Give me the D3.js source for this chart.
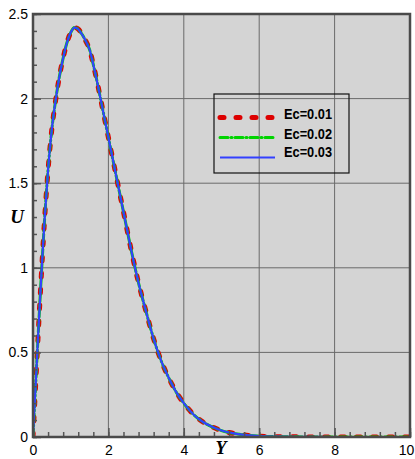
<!DOCTYPE html>
<html>
<head>
<meta charset="utf-8">
<script src="https://cdn.jsdelivr.net/npm/d3@7"></script>
<style>
  html, body { margin: 0; padding: 0; background: #ffffff; }
  svg { display: block; }
</style>
</head>
<body>
<svg id="chart" width="415" height="459"></svg>
<script>
// Velocity profile U(Y) for three Eckert numbers
const yValues = [0, 0.05, 0.1, 0.15, 0.2, 0.25, 0.3, 0.4, 0.5, 0.6, 0.7, 0.8, 0.9, 1.0,
  1.1, 1.2, 1.3, 1.4, 1.5, 1.6, 1.7, 1.8, 1.9, 2.0, 2.2, 2.4, 2.6, 2.8, 3.0, 3.2, 3.4,
  3.6, 3.8, 4.0, 4.25, 4.5, 4.75, 5.0, 5.5, 6.0, 6.5, 7.0, 8.0, 9.0, 10.0];

const uEc001 = [0, 0.22, 0.44, 0.66, 0.87, 1.07, 1.26, 1.58, 1.82, 1.99, 2.13, 2.24, 2.33, 2.39,
  2.42, 2.41, 2.38, 2.34, 2.29, 2.20, 2.10, 1.99, 1.88, 1.77, 1.55, 1.33, 1.11, 0.91, 0.74, 0.58, 0.45,
  0.35, 0.265, 0.20, 0.135, 0.09, 0.06, 0.038, 0.015, 0.005, 0.002, 0.0008, 0.0001, 0, 0];

const uEc002 = [0, 0.22, 0.44, 0.66, 0.87, 1.07, 1.26, 1.58, 1.82, 1.99, 2.13, 2.24, 2.33, 2.39,
  2.42, 2.41, 2.38, 2.34, 2.29, 2.20, 2.10, 1.99, 1.88, 1.77, 1.55, 1.33, 1.11, 0.91, 0.74, 0.58, 0.45,
  0.35, 0.265, 0.20, 0.135, 0.09, 0.06, 0.038, 0.015, 0.005, 0.002, 0.0008, 0.0001, 0, 0];

const uEc003 = [0, 0.22, 0.44, 0.66, 0.87, 1.07, 1.26, 1.58, 1.82, 1.99, 2.13, 2.24, 2.33, 2.39,
  2.42, 2.41, 2.38, 2.34, 2.29, 2.20, 2.10, 1.99, 1.88, 1.77, 1.55, 1.33, 1.11, 0.91, 0.74, 0.58, 0.45,
  0.35, 0.265, 0.20, 0.135, 0.09, 0.06, 0.038, 0.015, 0.005, 0.002, 0.0008, 0.0001, 0, 0];

const seriesLabels = ["Ec=0.01", "Ec=0.02", "Ec=0.03"];
const xTickValues = [0, 2, 4, 6, 8, 10];
const yTickValues = [0, 0.5, 1, 1.5, 2, 2.5];

const svg = d3.select("#chart");
const plotLeft = 33, plotRight = 410, plotTop = 14, plotBottom = 437;

const x = d3.scaleLinear().domain([0, 10]).range([plotLeft, plotRight]);
const y = d3.scaleLinear().domain([0, 2.5]).range([plotBottom, plotTop]);

// plot background
svg.append("rect")
  .attr("x", plotLeft).attr("y", plotTop)
  .attr("width", plotRight - plotLeft).attr("height", plotBottom - plotTop)
  .attr("fill", "#d4d4d4");

svg.append("clipPath").attr("id", "plotClip")
  .append("rect")
  .attr("x", plotLeft).attr("y", plotTop)
  .attr("width", plotRight - plotLeft).attr("height", plotBottom - plotTop);

// grid lines at major ticks
const grid = svg.append("g").attr("stroke", "#6a6a6a").attr("stroke-width", 1);
grid.selectAll(".gx").data(xTickValues.filter(v => v > 0 && v < 10)).join("line")
  .attr("x1", d => x(d)).attr("x2", d => x(d))
  .attr("y1", plotTop).attr("y2", plotBottom);
grid.selectAll(".gy").data(yTickValues.filter(v => v > 0 && v < 2.5)).join("line")
  .attr("x1", plotLeft).attr("x2", plotRight)
  .attr("y1", d => y(d)).attr("y2", d => y(d));

// curves
const series = [
  { label: seriesLabels[0], values: uEc001, color: "#dd0000", width: 5, dash: "4,12", cap: "round" },
  { label: seriesLabels[1], values: uEc002, color: "#00d400", width: 3, dash: "8,3,1,3", cap: "round" },
  { label: seriesLabels[2], values: uEc003, color: "#3340ff", width: 2.2, dash: null, cap: "butt" }
];

const line = d3.line()
  .x(d => x(d[0]))
  .y(d => y(d[1]))
  .curve(d3.curveMonotoneX);

const curves = svg.append("g").attr("clip-path", "url(#plotClip)");
series.forEach(s => {
  curves.append("path")
    .datum(yValues.map((v, i) => [v, s.values[i]]))
    .attr("d", line)
    .attr("fill", "none")
    .attr("stroke", s.color)
    .attr("stroke-width", s.width)
    .attr("stroke-dasharray", s.dash)
    .attr("stroke-linecap", s.cap)
    .attr("stroke-linejoin", "round");
});

// axes with inward ticks
const axisColor = "#555555";
const xMinor = svg.append("g").attr("transform", `translate(0,${plotBottom})`)
  .call(d3.axisBottom(x).tickValues(d3.range(0, 10.001, 0.4)).tickSize(-5).tickFormat(""));
const xMajor = svg.append("g").attr("transform", `translate(0,${plotBottom})`)
  .call(d3.axisBottom(x).tickValues(xTickValues).tickSize(-9).tickPadding(8).tickFormat(d3.format("d")));
const yMinor = svg.append("g").attr("transform", `translate(${plotLeft},0)`)
  .call(d3.axisLeft(y).tickValues(d3.range(0, 2.5001, 0.1)).tickSize(-4).tickFormat(""));
const yMajor = svg.append("g").attr("transform", `translate(${plotLeft},0)`)
  .call(d3.axisLeft(y).tickValues(yTickValues).tickSize(-8).tickPadding(5).tickFormat(d => d));

[xMinor, xMajor, yMinor, yMajor].forEach(g => {
  g.select(".domain").remove();
  g.selectAll(".tick line").attr("stroke", axisColor).attr("stroke-width", 1.5);
  g.selectAll(".tick text")
    .attr("fill", "#000")
    .style("font-family", "'Liberation Sans', Arial, sans-serif")
    .style("font-size", "14px");
});

// keep the last x label inside the page edge
xMajor.selectAll(".tick text").filter(d => d === 10).attr("dx", -4);

// frame
svg.append("rect")
  .attr("x", plotLeft).attr("y", plotTop)
  .attr("width", plotRight - plotLeft).attr("height", plotBottom - plotTop)
  .attr("fill", "none")
  .attr("stroke", "#4a4a4a")
  .attr("stroke-width", 2.5);

// axis titles
svg.append("text")
  .attr("x", 17).attr("y", 223)
  .attr("text-anchor", "middle")
  .style("font-family", "'Liberation Serif', 'Times New Roman', serif")
  .style("font-style", "italic")
  .style("font-weight", "bold")
  .style("font-size", "19px")
  .text("U");

svg.append("text")
  .attr("x", 221).attr("y", 454)
  .attr("text-anchor", "middle")
  .style("font-family", "'Liberation Serif', 'Times New Roman', serif")
  .style("font-style", "italic")
  .style("font-weight", "bold")
  .style("font-size", "18px")
  .text("Y");

// legend
const legend = svg.append("g");
legend.append("rect")
  .attr("x", 214).attr("y", 94)
  .attr("width", 135).attr("height", 79)
  .attr("fill", "none")
  .attr("stroke", "#111")
  .attr("stroke-width", 1.2);

const legendRows = [117.5, 137.5, 157.5];
const legendText = [119, 139, 157];
series.forEach((s, i) => {
  legend.append("line")
    .attr("x1", 220).attr("x2", 275)
    .attr("y1", legendRows[i]).attr("y2", legendRows[i])
    .attr("stroke", s.color)
    .attr("stroke-width", s.width)
    .attr("stroke-dasharray", s.dash)
    .attr("stroke-linecap", s.cap);
  legend.append("text")
    .attr("x", 284).attr("y", legendText[i])
    .attr("textLength", 48)
    .attr("lengthAdjust", "spacingAndGlyphs")
    .style("font-family", "'Liberation Sans', Arial, sans-serif")
    .style("font-weight", "bold")
    .style("font-size", "15px")
    .text(s.label);
});
</script>
</body>
</html>
